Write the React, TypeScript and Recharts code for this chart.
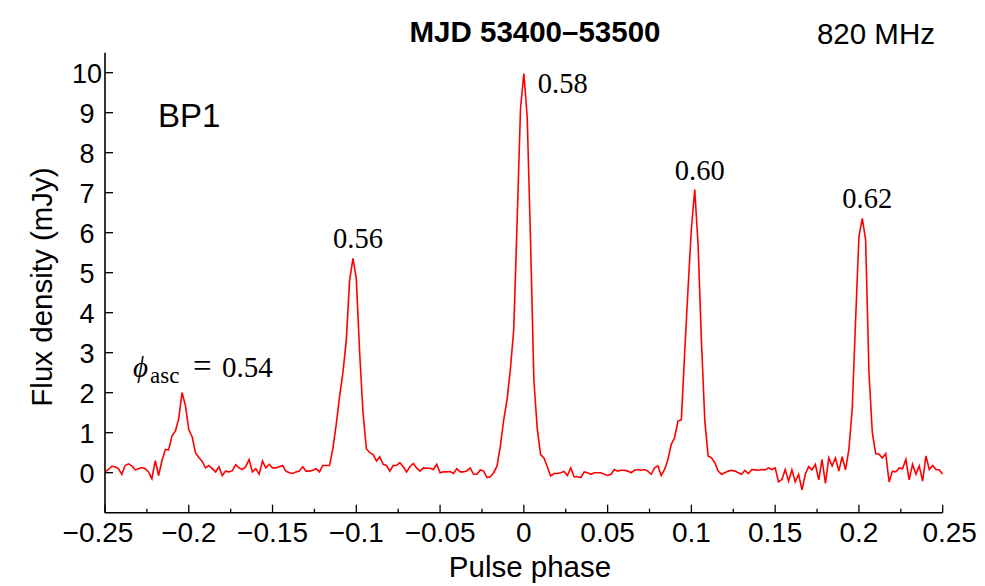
import React from 'react';
import { LineChart, Line, XAxis, YAxis } from 'recharts';

// phase bins start at -0.25 with a fixed bin width
const PHASE_START = -0.25;
const PHASE_STEP = 0.002;

// flux density per phase bin (mJy)
const FLUX = [
  0.02, 0.08, 0.16, 0.15, 0.10, -0.04, 0.18, 0.22, 0.17, 0.07,
  0.10, 0.13, 0.10, 0.02, -0.15, 0.30, -0.07, 0.30, 0.58, 0.57,
  0.92, 1.04, 1.35, 2.00, 1.68, 1.08, 0.90, 0.50, 0.38, 0.28,
  0.12, 0.18, 0.10, 0.02, 0.15, -0.07, 0.04, 0.02, 0.05, 0.20,
  0.12, 0.08, 0.15, 0.33, 0.02, 0.10, -0.04, 0.29, 0.12, 0.21,
  0.12, 0.12, 0.15, 0.18, 0.04, 0.00, -0.02, 0.02, 0.04, 0.15,
  0.04, 0.04, 0.06, 0.10, 0.02, 0.18, 0.18, 0.18, 0.60, 1.20,
  1.90, 2.50, 3.30, 4.80, 5.36, 4.85, 3.00, 1.50, 0.60, 0.50,
  0.46, 0.29, 0.40, 0.21, 0.18, 0.04, 0.18, 0.18, 0.25, 0.15,
  0.02, 0.15, 0.23, 0.12, 0.04, 0.12, 0.11, 0.11, 0.08, 0.21,
  0.00, 0.02, 0.02, 0.03, -0.02, 0.10, 0.02, 0.02, 0.05, 0.12,
  -0.04, -0.04, 0.07, 0.04, -0.12, -0.10, 0.00, 0.17, 0.67, 1.33,
  1.83, 2.60, 3.60, 6.30, 9.10, 9.98, 8.90, 5.80, 2.30, 1.10,
  0.45, 0.37, 0.15, -0.08, -0.02, -0.02, 0.00, 0.03, -0.07, 0.12,
  -0.10, -0.10, -0.12, 0.02, 0.00, -0.04, 0.00, 0.00, 0.00, -0.04,
  -0.07, -0.04, 0.08, 0.04, 0.06, 0.06, 0.04, 0.00, 0.06, 0.08,
  0.06, 0.08, 0.04, -0.04, 0.12, 0.17, -0.07, 0.08, 0.33, 0.71,
  0.88, 1.29, 1.32, 3.00, 4.60, 6.10, 7.08, 5.70, 3.30, 1.30,
  0.42, 0.37, 0.25, 0.04, -0.04, 0.00, 0.04, 0.06, 0.04, 0.00,
  -0.04, 0.06, -0.02, 0.08, 0.07, 0.06, 0.08, 0.07, 0.12, 0.08,
  0.12, -0.23, -0.17, 0.08, -0.21, 0.07, -0.23, -0.04, -0.43, -0.04,
  0.15, 0.07, 0.21, -0.18, 0.33, -0.27, 0.37, 0.17, 0.37, 0.04,
  0.40, 0.07, 0.58, 1.60, 3.80, 5.90, 6.36, 5.82, 2.50, 1.00,
  0.48, 0.46, 0.37, 0.48, -0.23, 0.04, 0.02, 0.12, 0.10, 0.33,
  -0.18, 0.21, -0.04, 0.17, -0.21, 0.42, 0.08, 0.18, 0.08, 0.07,
  -0.04,
];

const X_TICKS = [
  -0.25, -0.225, -0.2, -0.175, -0.15, -0.125, -0.1, -0.075, -0.05, -0.025,
  0, 0.025, 0.05, 0.075, 0.1, 0.125, 0.15, 0.175, 0.2, 0.225, 0.25,
];
const Y_TICKS = [0, 1, 2, 3, 4, 5, 6, 7, 8, 9, 10];

// orbital phase of each pulse peak
const PEAK_PHASES = [-0.204, -0.102, 0, 0.102, 0.202];
const PEAK_LABELS = ['0.54', '0.56', '0.58', '0.60', '0.62'];

const W = 985;
const H = 586;
const SANS = '"Liberation Sans", Arial, Helvetica, sans-serif';
const SERIF = '"Liberation Serif", "DejaVu Serif", serif';

const data = FLUX.map((flux, i) => ({
  phase: +(PHASE_START + i * PHASE_STEP).toFixed(4),
  flux,
}));

const peakIndex = PEAK_PHASES.map((p) => Math.round((p - PHASE_START) / PHASE_STEP));

const isMajor = (v: number) => Math.abs(Math.round(v / 0.05) * 0.05 - v) < 1e-6;
const fmtX = (v: number) => String(+v.toFixed(3)).replace('-', '\u2212');

// ticks point inward, so the tick lines are drawn by hand
function BottomTick({ x, y, payload }: any) {
  const v = payload.value;
  const major = isMajor(v);
  const dx = v === -0.25 ? -7 : v === 0.25 ? 7 : 0;
  return (
    <g>
      <line x1={x} x2={x} y1={y} y2={y - (major ? 8 : 4)} stroke="#000" strokeWidth={1.3} />
      {major && (
        <text x={x + dx} y={y + 29} textAnchor="middle" fontSize={28} fontFamily={SANS} fill="#000">
          {fmtX(v)}
        </text>
      )}
    </g>
  );
}

function TopTick({ x, y, payload }: any) {
  const major = isMajor(payload.value);
  return <line x1={x} x2={x} y1={y} y2={y + (major ? 8 : 4)} stroke="#000" strokeWidth={1.3} />;
}

function LeftTick({ x, y, payload }: any) {
  return (
    <g>
      <line x1={x} x2={x + 8} y1={y} y2={y} stroke="#000" strokeWidth={1.3} />
      <text x={x - 18} y={y + 10} textAnchor="middle" fontSize={27} fontFamily={SANS} fill="#000">
        {payload.value}
      </text>
    </g>
  );
}

function RightTick({ x, y }: any) {
  return <line x1={x} x2={x - 8} y1={y} y2={y} stroke="#000" strokeWidth={1.3} />;
}

// peak annotations hang off the line's own points
function PeakLabel(props: any) {
  const { cx, cy, index } = props;
  const k = peakIndex.indexOf(index);
  if (k < 0 || cx == null) return <g key={`d${index}`} />;
  const label = PEAK_LABELS[k];
  if (k === 0) {
    const x0 = cx - 49;
    return (
      <text key={`d${index}`} x={x0} y={cy - 16} fontSize={29} fontFamily={SERIF} fill="#000">
        <tspan fontStyle="italic">{'\u03D5'}</tspan>
        <tspan x={x0 + 17} fontSize={23} dy={6}>asc</tspan>
        <tspan x={x0 + 60} dy={-6} fontSize={33}>=</tspan>
        <tspan x={x0 + 89}>{label}</tspan>
      </text>
    );
  }
  if (k === 2) {
    return (
      <text key={`d${index}`} x={cx + 14} y={cy + 19} fontSize={28.5} fontFamily={SERIF} fill="#000">
        {label}
      </text>
    );
  }
  return (
    <text key={`d${index}`} x={cx + 5} y={cy - 10} textAnchor="middle" fontSize={28.5} fontFamily={SERIF} fill="#000">
      {label}
    </text>
  );
}

export default function App() {
  return (
    <div style={{ position: 'absolute', left: 0, top: 0, width: W, height: H, background: '#fff' }}>
      <LineChart
        width={W}
        height={H}
        data={data}
        margin={{ top: 52.7, right: 42.3, bottom: 33.3, left: 45 }}
      >
        <XAxis
          xAxisId="bottom"
          dataKey="phase"
          type="number"
          domain={[-0.25, 0.25]}
          ticks={X_TICKS}
          interval={0}
          height={40}
          tickSize={0}
          tickMargin={0}
          tickLine={false}
          tick={<BottomTick />}
          axisLine={{ stroke: '#000', strokeWidth: 1.6 }}
          allowDataOverflow
        />
        <XAxis
          xAxisId="top"
          orientation="top"
          dataKey="phase"
          type="number"
          domain={[-0.25, 0.25]}
          ticks={X_TICKS}
          interval={0}
          height={0}
          tickSize={0}
          tickMargin={0}
          tickLine={false}
          tick={<TopTick />}
          axisLine={{ stroke: '#000', strokeWidth: 1.6 }}
          allowDataOverflow
        />
        <YAxis
          yAxisId="left"
          type="number"
          domain={[-1, 10.5]}
          ticks={Y_TICKS}
          interval={0}
          width={60}
          tickSize={0}
          tickMargin={0}
          tickLine={false}
          tick={<LeftTick />}
          axisLine={{ stroke: '#000', strokeWidth: 1.6 }}
          allowDataOverflow
        />
        <YAxis
          yAxisId="right"
          orientation="right"
          type="number"
          domain={[-1, 10.5]}
          ticks={Y_TICKS}
          interval={0}
          width={0}
          tickSize={0}
          tickMargin={0}
          tickLine={false}
          tick={<RightTick />}
          axisLine={{ stroke: '#000', strokeWidth: 1.6 }}
          allowDataOverflow
        />
        <Line
          xAxisId="bottom"
          yAxisId="left"
          type="linear"
          dataKey="flux"
          stroke="#ff0000"
          strokeWidth={1.6}
          dot={PeakLabel}
          activeDot={false}
          isAnimationActive={false}
        />
      </LineChart>
      <svg
        width={W}
        height={H}
        style={{ position: 'absolute', left: 0, top: 0, pointerEvents: 'none' }}
      >
        <text x={535} y={42} textAnchor="middle" fontSize={29.5} fontWeight="bold" fontFamily={SANS} fill="#000">
          MJD 53400–53500
        </text>
        <text x={935} y={44} textAnchor="end" fontSize={29.5} fontFamily={SANS} fill="#000">
          820 MHz
        </text>
        <text x={158} y={127} fontSize={33} fontFamily={SANS} fill="#000">
          BP1
        </text>
        <text
          x={52}
          y={287}
          textAnchor="middle"
          fontSize={29.5}
          fontFamily={SANS}
          fill="#000"
          transform="rotate(-90 52 287)"
        >
          Flux density (mJy)
        </text>
        <text x={530} y={577} textAnchor="middle" fontSize={29.5} fontFamily={SANS} fill="#000">
          Pulse phase
        </text>
      </svg>
    </div>
  );
}
